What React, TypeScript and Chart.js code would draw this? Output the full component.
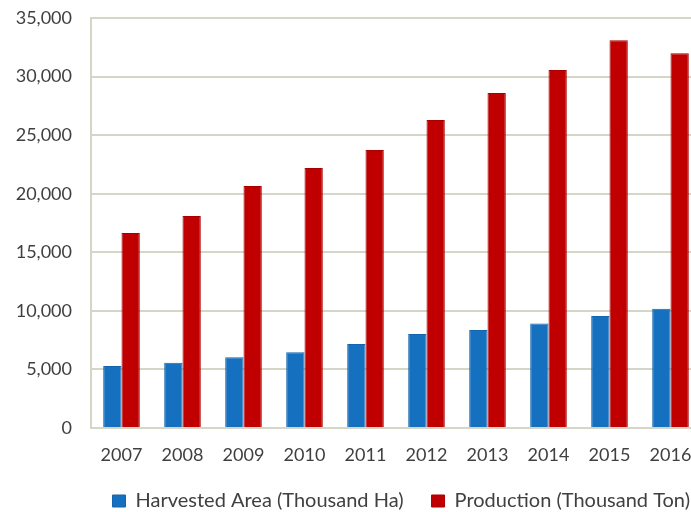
import React, { useEffect, useRef } from "react";
import { Chart, registerables } from "chart.js";

Chart.register(...registerables);

const years = ["2007", "2008", "2009", "2010", "2011", "2012", "2013", "2014", "2015", "2016"];
const harvestedArea = [5290, 5570, 6030, 6460, 7170, 8020, 8370, 8930, 9560, 10190];
const production = [16650, 18100, 20660, 22200, 23730, 26300, 28600, 30560, 33100, 32000];
const yTicks = [0, 5000, 10000, 15000, 20000, 25000, 30000, 35000];

const FONT = "Lato, 'Noto Sans', sans-serif";
const TEXT = "#404040";
const GRID = "#d6d6c6";

const shiftLegend = {
  id: "shiftLegend",
  afterLayout(chart: any) {
    const lg = chart.legend;
    if (lg) {
      lg.left += 17;
      lg.right += 17;
      lg.top -= 11;
    }
  },
};

export default function App() {
  const ref = useRef<HTMLCanvasElement | null>(null);
  useEffect(() => {
    if (!ref.current) return;
    const chart = new Chart(ref.current, {
      type: "bar",
      data: {
        labels: years,
        datasets: [
          {
            label: "Harvested Area (Thousand Ha)",
            data: harvestedArea,
            backgroundColor: "#1670c0",
            borderColor: "#1465ad",
            borderWidth: 1,
            barPercentage: 1,
            categoryPercentage: 0.6,
          },
          {
            label: "Production (Thousand Ton)",
            data: production,
            backgroundColor: "#c00000",
            borderColor: "#a80000",
            borderWidth: 1,
            barPercentage: 1,
            categoryPercentage: 0.6,
          },
        ],
      },
      plugins: [shiftLegend],
      options: {
        responsive: false,
        animation: false,
        layout: { padding: { top: 18, right: 19, left: 0, bottom: 0 } },
        plugins: {
          tooltip: { enabled: false },
          legend: {
            position: "bottom",
            align: "end",
            maxHeight: 38,
            labels: {
              boxWidth: 13,
              boxHeight: 12,
              padding: 28,
              color: TEXT,
              font: { family: FONT, size: 20 },
            },
          } as any,
        },
        scales: {
          x: {
            grid: { display: false, drawTicks: false },
            border: { display: true, color: GRID, width: 2 },
            ticks: { color: TEXT, font: { family: FONT, size: 18 }, padding: 16, maxRotation: 0 },
            afterFit: (s: any) => {
              s.height = 46;
              s.paddingLeft = 0;
              s.paddingRight = 0;
            },
          },
          y: {
            min: 0,
            max: 35000,
            afterBuildTicks: (s: any) => {
              s.ticks = yTicks.map((v) => ({ value: v }));
            },
            grid: { color: GRID, lineWidth: 2, drawTicks: false },
            border: { display: true, color: GRID, width: 2 },
            ticks: {
              color: TEXT,
              font: { family: FONT, size: 18 },
              padding: 19,
              callback: (v: any) => Number(v).toLocaleString("en-US"),
            },
            afterFit: (s: any) => {
              s.width = 91;
              s.paddingTop = 0;
              s.paddingBottom = 0;
            },
          },
        },
      },
    });
    return () => chart.destroy();
  }, []);
  return (
    <div style={{ position: "fixed", left: 0, top: 0, width: 691, height: 512, overflow: "hidden", background: "#fff" }}>
      <canvas ref={ref} width={720} height={512} style={{ display: "block" }} />
    </div>
  );
}
